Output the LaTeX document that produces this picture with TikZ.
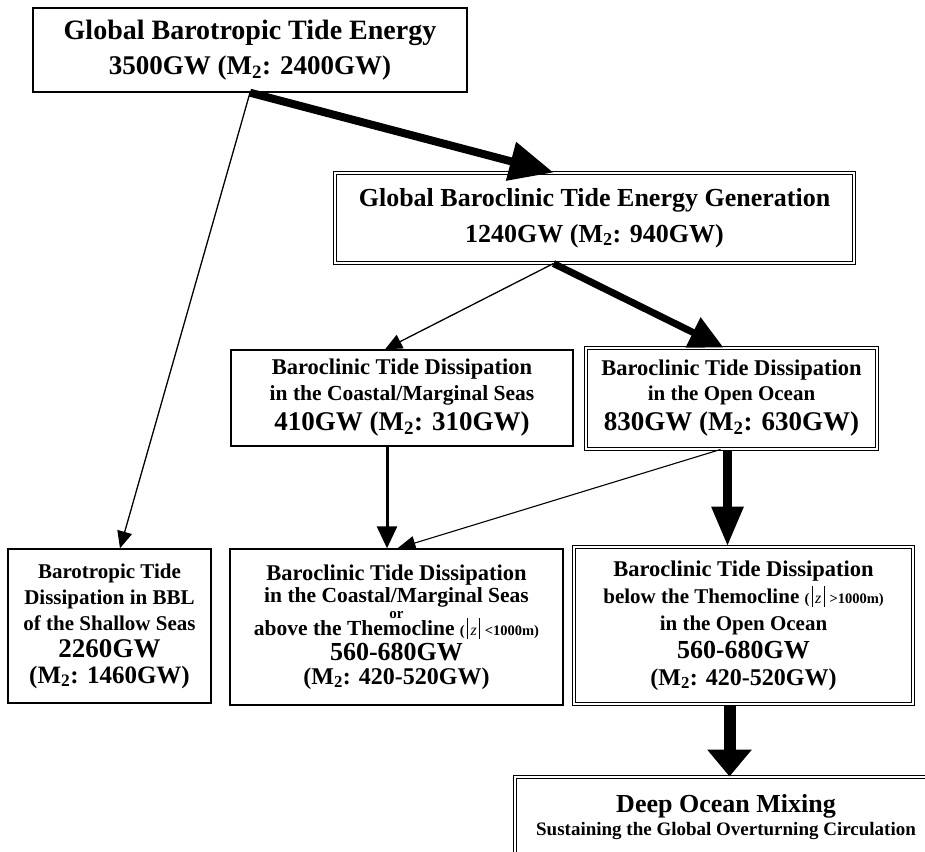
\documentclass[tikz,border=0pt]{standalone}
\usepackage{fontspec}
\setmainfont{Liberation Serif}
\usetikzlibrary{arrows.meta}
\newcommand{\fsz}[2]{\fontsize{#1}{#2}\selectfont}
\newcommand{\zpar}[1]{{\fsz{14.5}{14.5}(\,\rule[-4pt]{0.9pt}{21pt}\,{\mdseries\itshape\fsz{16}{16}z}\,\rule[-4pt]{0.9pt}{21pt}\,\,#1)}}
\newcommand{\btd}{{\fsz{22.5}{26}Baroclinic Tide Dissipation}}
\tikzset{
  box/.style={draw, line width=1.4pt, fill=white, inner sep=0pt, align=center},
  dbox/.style={draw, double, double distance=2pt, line width=1pt, fill=white, inner sep=0pt, align=center},
  thin arrow/.style={line width=1.3pt, -{Triangle[length=17pt,width=15pt]}},
  mid arrow/.style={line width=3pt, -{Triangle[length=22pt,width=20pt]}},
  thick arrow/.style={line width=8pt, -{Triangle[length=44pt,width=38pt]}},
}
\begin{document}
\begin{tikzpicture}[x=1pt,y=-1pt]
\clip (0,0) rectangle (925,851);
\fill[white] (0,0) rectangle (925,851);

\node[box, minimum width=434pt, minimum height=84pt, font=\bfseries\fsz{26}{35}] (A) at (250,50)
  {{\fsz{28}{30}Global Barotropic Tide Energy}\\
   {\fsz{27}{30}3500GW (M\textsubscript{2}: 2400GW)}};

\node[dbox, minimum width=519pt, minimum height=90pt, font=\bfseries\fsz{26}{36}] (B) at (594.5,218)
  {Global Baroclinic Tide Energy Generation\\
   1240GW (M\textsubscript{2}: 940GW)};

\node[box, minimum width=342pt, minimum height=96pt, font=\bfseries\fsz{21.5}{26}] (C) at (402,398)
  {\btd\\
   in the Coastal/Marginal Seas\\[4pt]
   {\fsz{27}{30}410GW (M\textsubscript{2}: 310GW)}};

\node[dbox, minimum width=291pt, minimum height=101pt, font=\bfseries\fsz{21}{25}] (D) at (731.5,398.5)
  {\btd\\
   in the Open Ocean\\[5pt]
   {\fsz{27}{30}830GW (M\textsubscript{2}: 630GW)}};

\node[box, minimum width=203pt, minimum height=154pt, font=\bfseries\fsz{21}{26}] (E) at (109.5,626)
  {Barotropic Tide\\
   Dissipation in BBL\\
   of the Shallow Seas\\[1pt]
   {\fsz{27}{30}2260GW}\\
   {\fsz{25}{30}(M\textsubscript{2}: 1460GW)}};

\node[box, minimum width=333pt, minimum height=156pt, font=\bfseries\fsz{21.5}{24}] (F) at (396.5,627)
  {\btd\\[-2pt]
   in the Coastal/Marginal Seas\\[-8pt]
   {\fsz{15}{15}or}\\[-7pt]
   above the Themocline \zpar{<1000m}\\[1pt]
   {\fsz{26}{30}560-680GW}\\
   {\fsz{24}{30}(M\textsubscript{2}: 420-520GW)}};

\node[dbox, minimum width=339pt, minimum height=157pt, font=\bfseries\fsz{21}{27}] (G) at (743.5,625.5)
  {\btd\\
   below the Themocline \zpar{>1000m}\\
   in the Open Ocean\\[1pt]
   {\fsz{26}{30}560-680GW}\\
   {\fsz{24}{30}(M\textsubscript{2}: 420-520GW)}};

\node[dbox, minimum width=422pt, minimum height=80pt, font=\bfseries\fsz{26}{23}] (H) at (726,817)
  {Deep Ocean Mixing\\
   {\fsz{19}{22}Sustaining the Global Overturning Circulation}};

% connectors
\draw[thick arrow] (A.south) -- ([xshift=-41pt]B.north);
\draw[thin arrow] (A.south) -- ([xshift=10.5pt]E.north);
\draw[thin arrow] ([xshift=-41pt]B.south) -- ([xshift=-17pt]C.north);
\draw[line width=7pt, -{Triangle[length=34pt,width=32pt]}] ([xshift=-41pt]B.south) -- ([xshift=-8pt]D.north);
\draw[mid arrow] ([xshift=-15pt]C.south) -- ([xshift=-15pt]C.south |- F.north);
\draw[line width=1.1pt, -{Triangle[length=18pt,width=14pt]}] ([xshift=-11pt]D.south) -- ([xshift=1pt]F.north);
\draw[line width=9pt, -{Triangle[length=40pt,width=30pt]}] ([xshift=-4pt]D.south) -- ([xshift=-4pt]D.south |- G.north);
\draw[line width=12pt, -{Triangle[length=27pt,width=43pt]}] ([xshift=-14pt]G.south) -- ([xshift=-14pt]G.south |- H.north);
\end{tikzpicture}
\end{document}
